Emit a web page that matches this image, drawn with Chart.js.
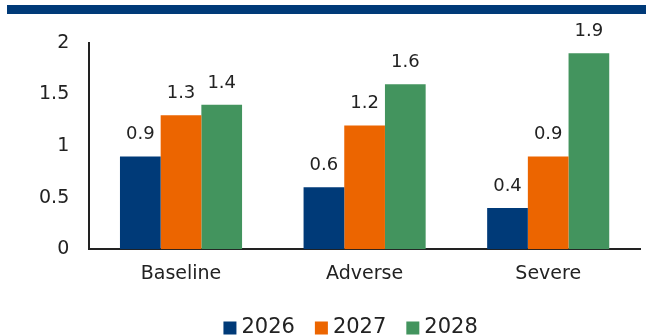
<!DOCTYPE html>
<html>
<head>
<meta charset="utf-8">
<script src="https://cdn.jsdelivr.net/npm/chart.js@4/dist/chart.umd.min.js"></script>
<style>
  html, body { margin: 0; padding: 0; background: #fff; }
  #wrap { position: relative; width: 646px; height: 336px; overflow: hidden; }
  #band { position: absolute; left: 7px; right: 0; top: 5px; height: 9px; background: #003a78; }
  #chart { position: absolute; left: 0; top: 0; }
</style>
</head>
<body>
<div id="wrap">
  <div id="band"></div>
  <canvas id="chart" width="646" height="336"></canvas>
</div>
<script>
const scenarios = ['Baseline', 'Adverse', 'Severe'];
const years = ['2026', '2027', '2028'];
const values2026 = [0.9, 0.6, 0.4];
const values2027 = [1.3, 1.2, 0.9];
const values2028 = [1.4, 1.6, 1.9];
const colors = ['#003a78', '#ec6500', '#43945e'];

const fontFamily = '"DejaVu Sans", sans-serif';

// draws each bar's value just above it
const valueLabels = {
	id: 'valueLabels',
	afterDatasetsDraw(chart) {
		const ctx = chart.ctx;
		ctx.save();
		ctx.font = '18px ' + fontFamily;
		ctx.fillStyle = '#222';
		ctx.textAlign = 'center';
		ctx.textBaseline = 'bottom';
		chart.data.datasets.forEach((ds, i) => {
			chart.getDatasetMeta(i).data.forEach((bar, j) => {
				ctx.fillText(ds.data[j].toString(), bar.x, bar.y - 13);
			});
		});
		ctx.restore();
	}
};

// compact legend along the bottom edge, small gap between swatch and text
const bottomLegend = {
	id: 'bottomLegend',
	afterDraw(chart) {
		const ctx = chart.ctx;
		const box = 13, gap = 5, spacing = 20, y = 328;
		ctx.save();
		ctx.font = '21px ' + fontFamily;
		ctx.textBaseline = 'middle';
		ctx.textAlign = 'left';
		const items = chart.data.datasets.map(ds => ({
			text: ds.label,
			color: ds.backgroundColor,
			w: box + gap + ctx.measureText(ds.label).width
		}));
		const total = items.reduce((s, it) => s + it.w, 0) + spacing * (items.length - 1);
		let x = (chart.chartArea.left + chart.chartArea.right) / 2 - 14 - total / 2;
		items.forEach(it => {
			ctx.fillStyle = it.color;
			ctx.fillRect(x, y - box / 2, box, box);
			ctx.fillStyle = '#222';
			ctx.fillText(it.text, x + box + gap, y);
			x += it.w + spacing;
		});
		ctx.restore();
	}
};

const ctx = document.getElementById('chart').getContext('2d');
new Chart(ctx, {
	type: 'bar',
	data: {
		labels: scenarios,
		datasets: [
			{ label: years[0], data: values2026, backgroundColor: colors[0] },
			{ label: years[1], data: values2027, backgroundColor: colors[1] },
			{ label: years[2], data: values2028, backgroundColor: colors[2] }
		]
	},
	options: {
		responsive: false,
		animation: false,
		datasets: {
			bar: { categoryPercentage: 0.665, barPercentage: 1 }
		},
		layout: { padding: { left: 19, right: 6, top: 43, bottom: 38 } },
		scales: {
			x: {
				grid: { display: false, drawTicks: false },
				border: { color: '#222', width: 2 },
				ticks: { color: '#222', font: { family: fontFamily, size: 19 }, padding: 13 }
			},
			y: {
				min: 0,
				max: 2,
				grid: { display: false, drawTicks: false },
				border: { color: '#222', width: 2 },
				ticks: {
					stepSize: 0.5,
					color: '#222',
					font: { family: fontFamily, size: 19 },
					padding: 20,
					callback: v => String(v)
				}
			}
		},
		plugins: {
			legend: { display: false },
			tooltip: { enabled: false }
		}
	},
	plugins: [valueLabels, bottomLegend]
});
</script>
</body>
</html>
